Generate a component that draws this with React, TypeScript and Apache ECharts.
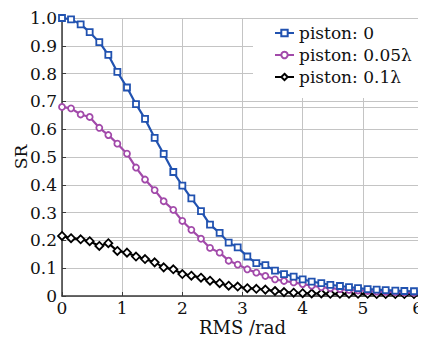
import React, { useEffect, useRef } from "react";
import * as echarts from "echarts";

const xValues = [0, 0.15, 0.31, 0.46, 0.62, 0.77, 0.92, 1.08, 1.23, 1.38, 1.54, 1.69, 1.85, 2.0, 2.15, 2.31, 2.46, 2.62, 2.77, 2.92, 3.08, 3.23, 3.38, 3.54, 3.69, 3.85, 4.0, 4.15, 4.31, 4.46, 4.62, 4.77, 4.92, 5.08, 5.23, 5.38, 5.54, 5.69, 5.85, 6.0];

const piston0 = [1.0, 0.995, 0.977, 0.949, 0.913, 0.867, 0.806, 0.75, 0.69, 0.637, 0.569, 0.511, 0.446, 0.397, 0.351, 0.305, 0.257, 0.227, 0.192, 0.175, 0.142, 0.118, 0.111, 0.091, 0.079, 0.07, 0.06, 0.052, 0.046, 0.04, 0.036, 0.032, 0.028, 0.025, 0.023, 0.021, 0.019, 0.018, 0.017, 0.016];

const piston005 = [0.68, 0.675, 0.653, 0.644, 0.605, 0.579, 0.548, 0.512, 0.462, 0.419, 0.381, 0.341, 0.31, 0.27, 0.238, 0.206, 0.173, 0.156, 0.127, 0.113, 0.096, 0.084, 0.072, 0.06, 0.054, 0.049, 0.043, 0.037, 0.032, 0.028, 0.025, 0.022, 0.02, 0.018, 0.016, 0.015, 0.014, 0.013, 0.012, 0.012];

const piston01 = [0.216, 0.208, 0.204, 0.197, 0.18, 0.19, 0.162, 0.156, 0.142, 0.133, 0.121, 0.103, 0.096, 0.079, 0.073, 0.066, 0.055, 0.046, 0.037, 0.034, 0.028, 0.026, 0.023, 0.018, 0.014, 0.012, 0.01, 0.009, 0.009, 0.008, 0.008, 0.008, 0.008, 0.008, 0.007, 0.007, 0.007, 0.007, 0.007, 0.007];

const seriesNames = ["piston: 0", "piston: 0.05λ", "piston: 0.1λ"];
const seriesColors = ["#2152b0", "#a24aaa", "#000000"];
const seriesSymbols = ["rect", "circle", "diamond"];
const seriesData = [piston0, piston005, piston01];
const refLines = [null, 0.68, 0.214];

const FONT = "DejaVu Serif";

export default function App() {
  const ref = useRef<HTMLDivElement>(null);
  useEffect(() => {
    if (!ref.current) return;
    const chart = echarts.init(ref.current, null, { renderer: "svg" });
    chart.setOption({
      animation: false,
      backgroundColor: "#ffffff",
      grid: { left: 62, right: 3, top: 18, bottom: 45, containLabel: false, outerBoundsMode: "none" },
      legend: {
        orient: "vertical",
        left: 253,
        top: 19,
        backgroundColor: "#ffffff",
        padding: [5, 20, 12, 21],
        itemWidth: 19,
        itemHeight: 8,
        itemGap: 4,
        textStyle: { fontFamily: FONT, fontSize: 17, color: "#111", lineHeight: 18 },
        data: seriesNames,
      },
      xAxis: {
        type: "value",
        min: 0,
        max: 6,
        interval: 1,
        name: "RMS /rad",
        nameLocation: "middle",
        nameGap: 21,
        nameMoveOverlap: false,
        nameTextStyle: { fontFamily: FONT, fontSize: 18, color: "#111", lineHeight: 20 },
        axisLine: { show: true, onZero: false, lineStyle: { color: "#3a3a3a", width: 1.5 } },
        axisTick: { show: true, inside: true, length: 4, lineStyle: { color: "#3a3a3a" } },
        axisLabel: {
          fontFamily: FONT,
          fontSize: 17,
          color: "#111",
          margin: 3,
          lineHeight: 17,
          alignMaxLabel: "right",
        },
        splitLine: { show: true, lineStyle: { color: "#c4c4c4", width: 1 } },
      },
      yAxis: {
        type: "value",
        min: 0,
        max: 1,
        interval: 0.1,
        name: "SR",
        nameLocation: "middle",
        nameGap: 33,
        nameMoveOverlap: false,
        nameTextStyle: { fontFamily: FONT, fontSize: 17, color: "#111" },
        axisLine: { show: true, onZero: false, lineStyle: { color: "#3a3a3a", width: 1.5 } },
        axisTick: { show: true, inside: true, length: 4, lineStyle: { color: "#3a3a3a" } },
        axisLabel: {
          fontFamily: FONT,
          fontSize: 17,
          color: "#111",
          margin: 5,
          formatter: (v: number) => (v === 0 ? "0" : v.toFixed(1)),
        },
        splitLine: { show: true, lineStyle: { color: "#c4c4c4", width: 1 } },
      },
      series: seriesNames.map((name, k) => ({
        name,
        type: "line",
        data: xValues.map((x, i) => [x, seriesData[k][i]]),
        symbol: seriesSymbols[k],
        symbolSize: k === 2 ? 8 : 6,
        showAllSymbol: true,
        z: 3 - k,
        lineStyle: { color: seriesColors[k], width: 2.2 },
        itemStyle: { color: "#ffffff", borderColor: seriesColors[k], borderWidth: 1.8 },
        markLine:
          refLines[k] !== null
            ? {
                silent: true,
                symbol: "none",
                label: { show: false },
                lineStyle: { color: "#c4c4c4", width: 1, type: "solid" },
                data: [{ yAxis: refLines[k] }],
                z: 0,
              }
            : undefined,
      })),
    });
    return () => chart.dispose();
  }, []);
  return <div ref={ref} style={{ width: 426, height: 341, marginLeft: -8, marginTop: -8 }} />;
}
